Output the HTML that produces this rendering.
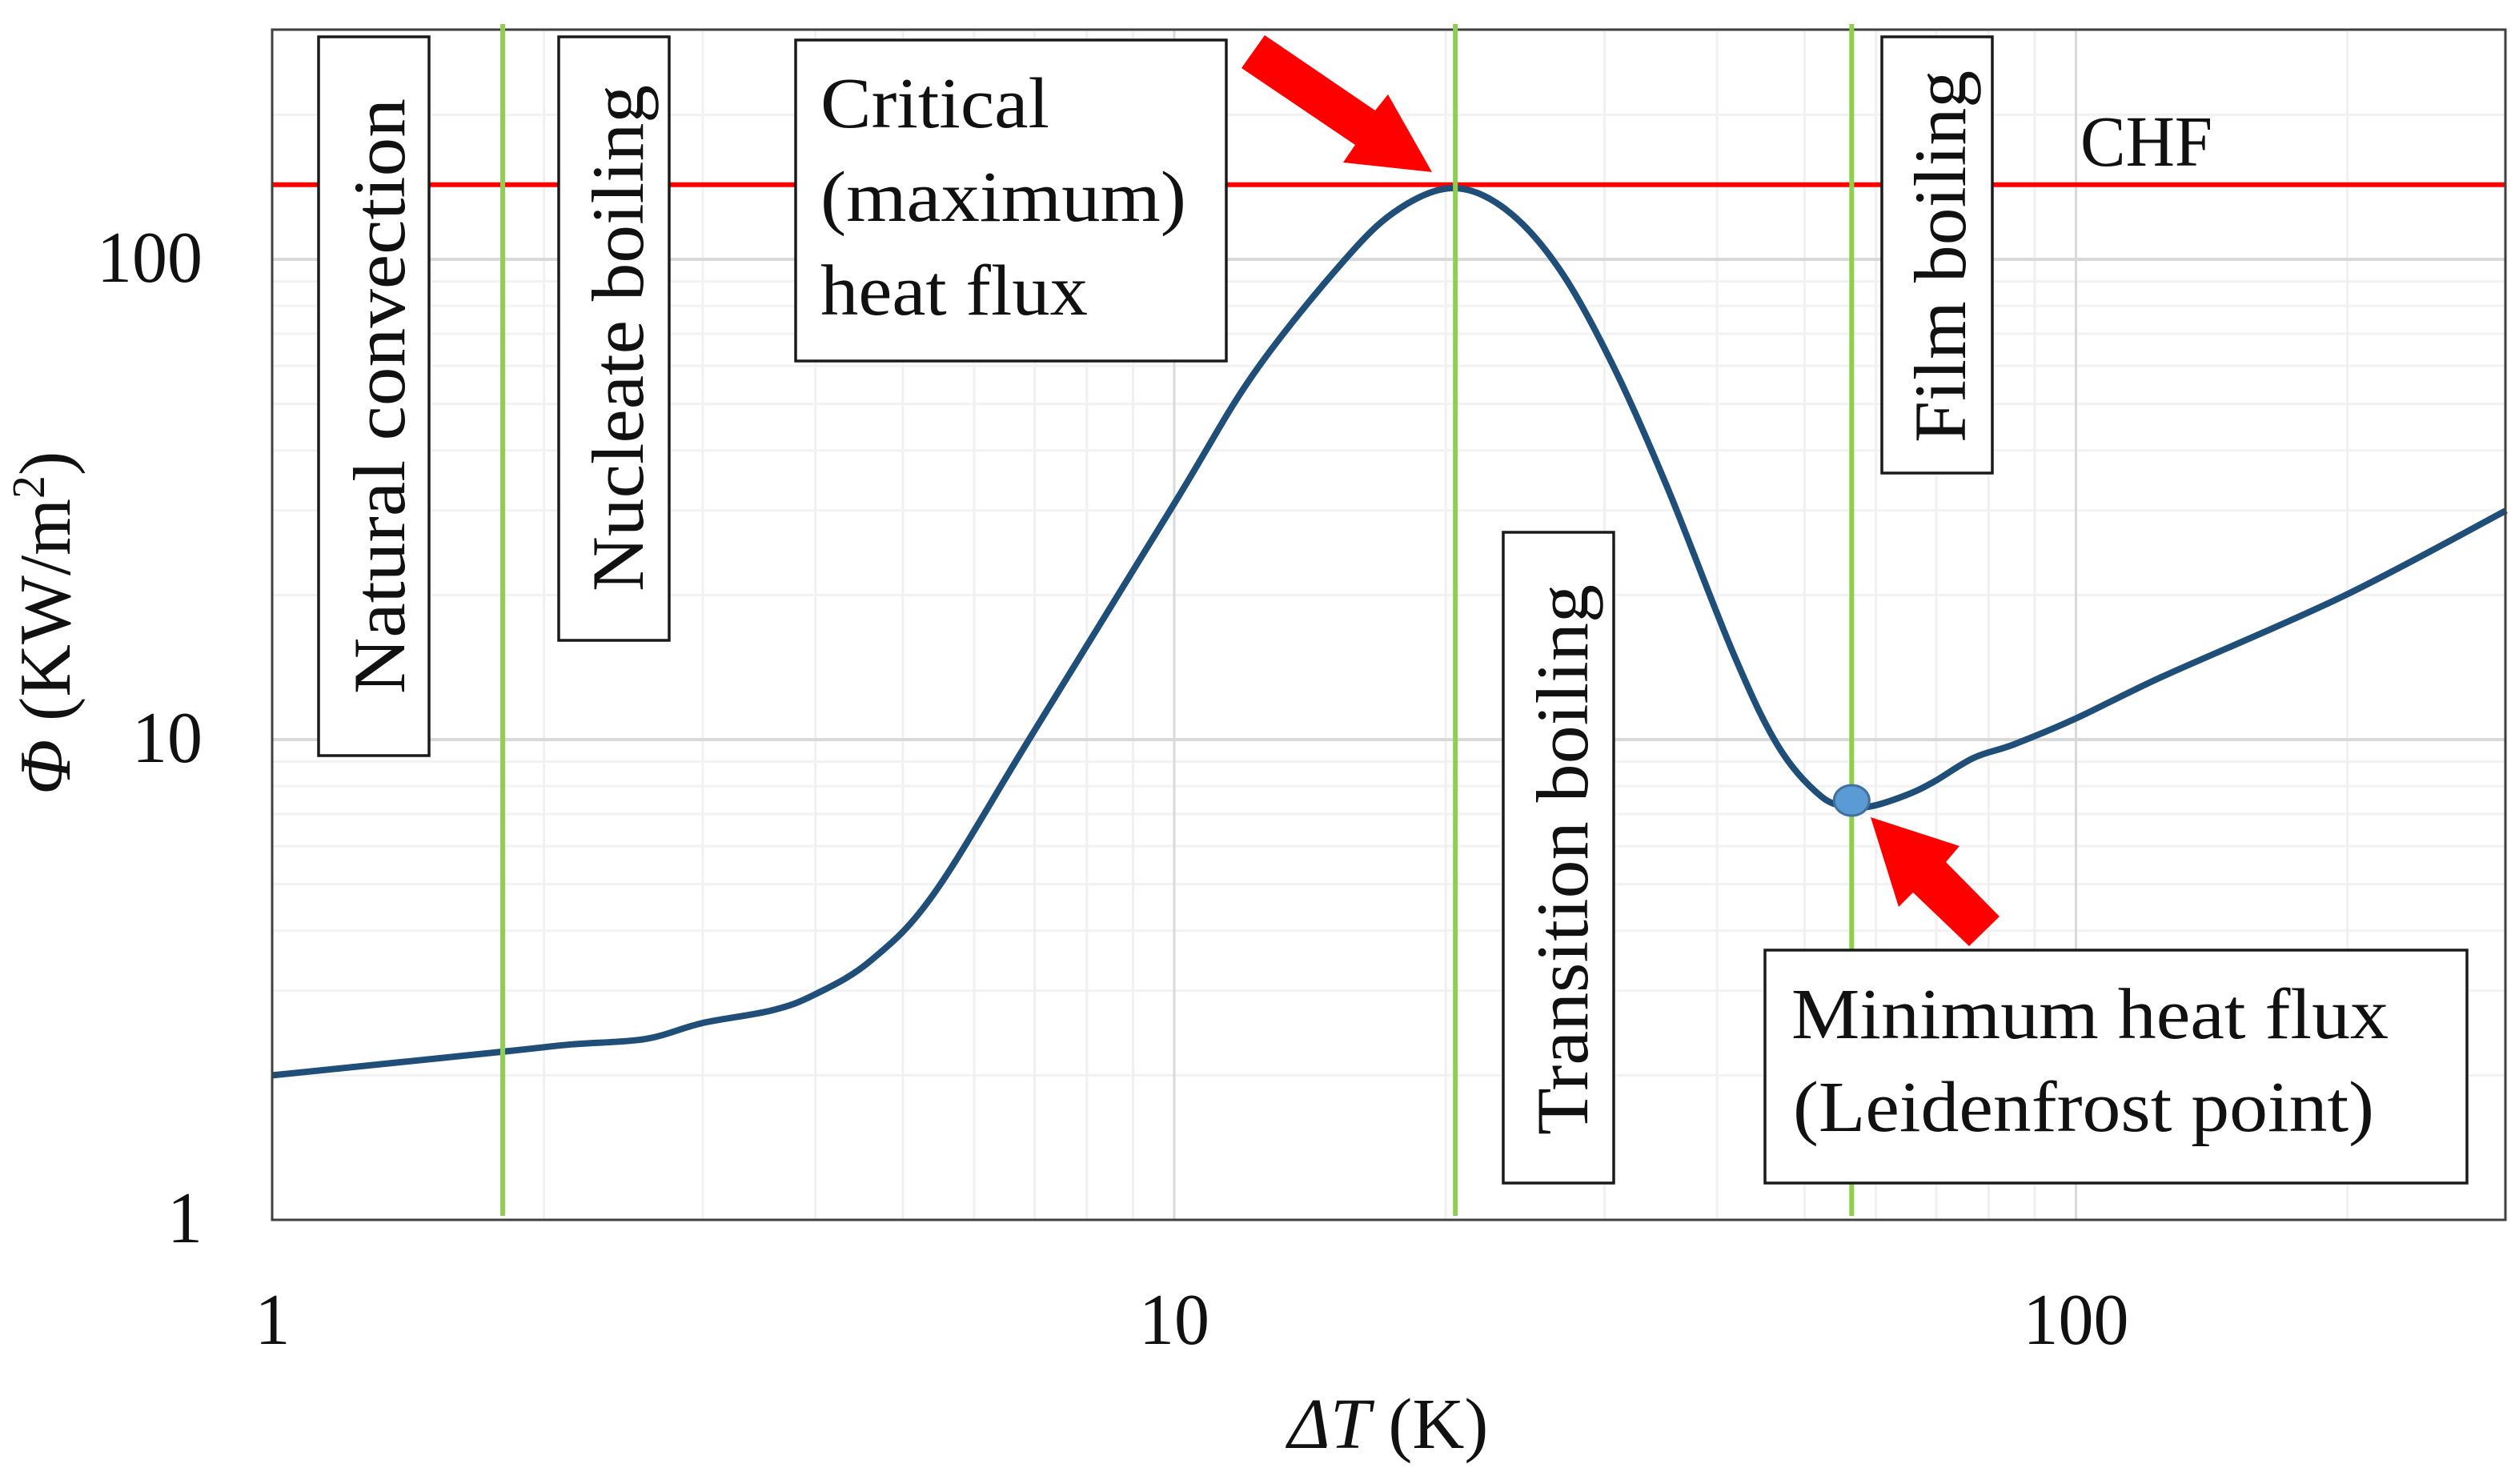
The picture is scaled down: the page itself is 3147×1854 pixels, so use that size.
<!DOCTYPE html>
<html lang="en">
<head>
<meta charset="utf-8">
<title>Boiling curve</title>
<style>
html,body{margin:0;padding:0;background:#fff;width:3147px;height:1854px;overflow:hidden}
svg{display:block;position:absolute;left:0;top:0}
text{font-family:"Liberation Serif",serif;fill:#111}
</style>
</head>
<body>
<svg id="chart" xmlns="http://www.w3.org/2000/svg" width="3147" height="1854" viewBox="0 0 3147 1854">
  <rect width="3147" height="1854" fill="#fff"/>
  <g id="grid"></g>
  <g id="chf"></g>
  <g id="series"></g>
  <rect x="340" y="37" width="2790" height="1487" fill="none" stroke="#404040" stroke-width="3"/>
  <g id="regions"></g>
  <g id="markers"></g>
  <g id="ticks"></g>

  <g>
    <rect x="398" y="46" width="138" height="898" fill="#fff" stroke="#1a1a1a" stroke-width="3.5"/>
    <text transform="translate(505,867) rotate(-90)" font-size="92" textLength="744" lengthAdjust="spacingAndGlyphs">Natural convection</text>
  </g>
  <g>
    <rect x="698" y="46" width="138" height="754" fill="#fff" stroke="#1a1a1a" stroke-width="3.5"/>
    <text transform="translate(803,739) rotate(-90)" font-size="92" textLength="633" lengthAdjust="spacingAndGlyphs">Nucleate boiling</text>
  </g>
  <g>
    <rect x="994" y="50" width="538" height="401" fill="#fff" stroke="#1a1a1a" stroke-width="3.5"/>
    <text x="1025" y="159" font-size="90" textLength="286" lengthAdjust="spacingAndGlyphs">Critical</text>
    <text x="1025" y="276" font-size="90" textLength="457" lengthAdjust="spacingAndGlyphs">(maximum)</text>
    <text x="1025" y="393" font-size="90" textLength="334" lengthAdjust="spacingAndGlyphs">heat flux</text>
  </g>
  <g>
    <rect x="1878" y="665" width="138" height="813" fill="#fff" stroke="#1a1a1a" stroke-width="3.5"/>
    <text transform="translate(1983,1418) rotate(-90)" font-size="92" textLength="688" lengthAdjust="spacingAndGlyphs">Transition boiling</text>
  </g>
  <g>
    <rect x="2351" y="46" width="138" height="545" fill="#fff" stroke="#1a1a1a" stroke-width="3.5"/>
    <text transform="translate(2455,553) rotate(-90)" font-size="92" textLength="465" lengthAdjust="spacingAndGlyphs">Film boiling</text>
  </g>
  <g>
    <rect x="2205" y="1187" width="877" height="291" fill="#fff" stroke="#1a1a1a" stroke-width="3.5"/>
    <text x="2238" y="1297" font-size="90" textLength="746" lengthAdjust="spacingAndGlyphs">Minimum heat flux</text>
    <text x="2240" y="1413" font-size="90" textLength="726" lengthAdjust="spacingAndGlyphs">(Leidenfrost point)</text>
  </g>
  <text x="2599" y="207" font-size="90" textLength="165" lengthAdjust="spacingAndGlyphs">CHF</text>

  <polygon fill="#ff0000" points="1580,44 1718,138 1734,118 1789,215 1678,203 1693,181 1551,85"/>
  <polygon fill="#ff0000" points="2337,1021 2448,1057 2431,1077 2498,1145 2460,1182 2390,1115 2372,1133"/>

  <text x="1609" y="1809" font-size="90"><tspan font-style="italic">ΔT</tspan> (K)</text>
  <text transform="translate(87,993) rotate(-90)" font-size="91"><tspan font-style="italic">Φ</tspan> (KW/m<tspan font-size="58" dy="-32">2</tspan><tspan dy="32">)</tspan></text>
</svg>
<script>
// Chart data
const deltaT = [1, 1.8, 2.15, 2.59, 3.0, 3.58, 4.0, 4.61, 5.41, 6.96, 9.99, 12.25, 15.5, 17.8, 20.46, 23.4, 26.8, 30.7, 35.2, 41.7, 46.8, 52.2, 56.3, 59.4, 64.9, 69.5, 77, 85.3, 99.8, 125, 198, 300];
const heatFlux = [2.0, 2.24, 2.32, 2.38, 2.57, 2.73, 2.95, 3.47, 4.77, 10.27, 30.9, 57.8, 100.4, 127.8, 140.7, 126.4, 94.8, 59.8, 33.6, 15.1, 9.66, 7.61, 7.25, 7.27, 7.67, 8.16, 9.16, 9.77, 11.05, 13.55, 19.9, 30];
const chfValue = [143];
const regionBoundaries = [1.8, 20.5, 56.4];
const leidenfrostPoint = [56.4, 7.47];
const xTickLabels = ['1', '10', '100'];
const yTickLabels = ['1', '10', '100'];
const xGridMajor = [10, 100];
const yGridMajor = [10, 100];
const gridMinor = [2, 3, 4, 5, 6, 7, 8, 9, 20, 30, 40, 50, 60, 70, 80, 90, 200, 300];

const NS = 'http://www.w3.org/2000/svg';
function xScale(v) { return 340.5 + 1126.5 * Math.log10(v); }
function yScale(v) { return 1524 - 600 * Math.log10(v); }
function mk(tag, parent, attrs) {
  const e = document.createElementNS(NS, tag);
  for (const k in attrs) e.setAttribute(k, attrs[k]);
  parent.appendChild(e);
  return e;
}

const grid = document.getElementById('grid');
gridMinor.forEach(function (v) {
  const hl = mk('line', grid, { x1: 340, x2: 3130, y1: yScale(v), y2: yScale(v), stroke: '#f2f2f2', 'stroke-width': 3 });
  
  
  const vl = mk('line', grid, { x1: xScale(v), x2: xScale(v), y1: 37, y2: 1524, stroke: '#f0f0f0', 'stroke-width': 3 });
  
  
});
yGridMajor.forEach(function (v) {
  const l = mk('line', grid, { x1: 340, x2: 3130, y1: yScale(v), y2: yScale(v), stroke: '#d9d9d9', 'stroke-width': 4 });
  
  
});
xGridMajor.forEach(function (v) {
  const l = mk('line', grid, { x1: xScale(v), x2: xScale(v), y1: 37, y2: 1524, stroke: '#d9d9d9', 'stroke-width': 3 });
  
  
});

const chfLine = mk('line', document.getElementById('chf'), { x1: 340, x2: 3130, y1: yScale(chfValue[0]), y2: yScale(chfValue[0]), stroke: '#ff0000', 'stroke-width': 6 });



// smooth Catmull-Rom path through the data points
const pts = deltaT.map(function (t, i) { return [xScale(t), yScale(heatFlux[i])]; });
let d = 'M' + pts[0][0].toFixed(1) + ' ' + pts[0][1].toFixed(1);
for (let i = 0; i < pts.length - 1; i++) {
  const p0 = pts[Math.max(i - 1, 0)], p1 = pts[i], p2 = pts[i + 1], p3 = pts[Math.min(i + 2, pts.length - 1)];
  const c1x = p1[0] + (p2[0] - p0[0]) / 6, c1y = p1[1] + (p2[1] - p0[1]) / 6;
  const c2x = p2[0] - (p3[0] - p1[0]) / 6, c2y = p2[1] - (p3[1] - p1[1]) / 6;
  d += 'C' + c1x.toFixed(1) + ' ' + c1y.toFixed(1) + ' ' + c2x.toFixed(1) + ' ' + c2y.toFixed(1) + ' ' + p2[0].toFixed(1) + ' ' + p2[1].toFixed(1);
}
const curve = mk('path', document.getElementById('series'), { d: d, fill: 'none', stroke: '#1f4e79', 'stroke-width': 8, 'stroke-linejoin': 'round' });



const regions = document.getElementById('regions');
regionBoundaries.forEach(function (v) {
  const l = mk('line', regions, { x1: xScale(v), x2: xScale(v), y1: 30, y2: 1519, stroke: '#8fce4f', 'stroke-width': 6 });
  
  
});

const marker = mk('ellipse', document.getElementById('markers'), { cx: xScale(leidenfrostPoint[0]), cy: yScale(leidenfrostPoint[1]), rx: 22, ry: 19, fill: '#5b9bd5', stroke: '#41719c', 'stroke-width': 3 });



const ticks = document.getElementById('ticks');
xTickLabels.forEach(function (s) {
  const t = mk('text', ticks, { x: xScale(+s), y: 1679, 'font-size': 91, 'text-anchor': 'middle', textLength: s.length * 44, lengthAdjust: 'spacingAndGlyphs' });
  t.textContent = s;
  
  
});
yTickLabels.forEach(function (s) {
  const t = mk('text', ticks, { x: 253 - s.length * 44, y: yScale(+s) + 28, 'font-size': 91, textLength: s.length * 44, lengthAdjust: 'spacingAndGlyphs' });
  t.textContent = s;
  
  
});
</script>
</body>
</html>
